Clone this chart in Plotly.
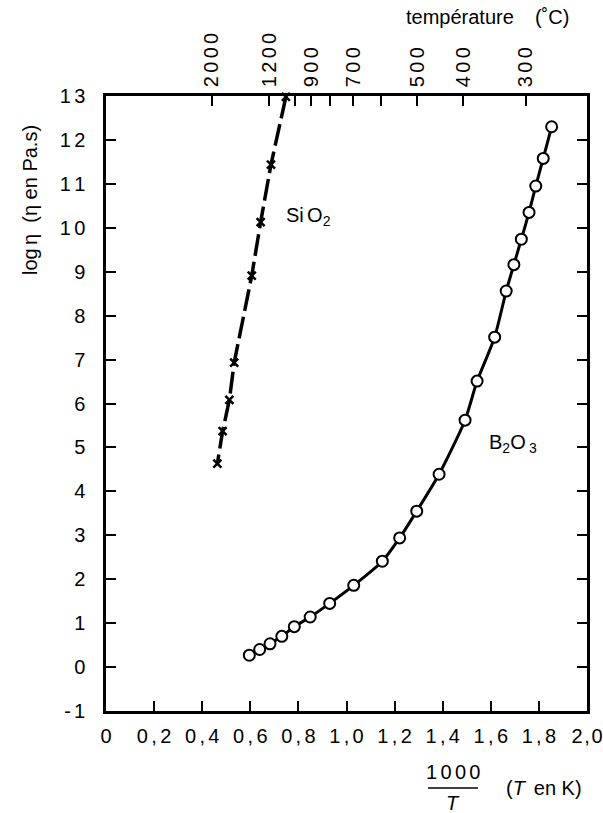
import plotly.graph_objects as go

# Viscosity of two glass formers versus reciprocal temperature
sio2_inv_t = [0.748, 0.686, 0.643, 0.606, 0.533, 0.513, 0.485, 0.463]
sio2_log_eta = [12.98, 11.44, 10.13, 8.91, 6.93, 6.08, 5.37, 4.63]

b2o3_inv_t = [0.596, 0.639, 0.682, 0.731, 0.783, 0.849, 0.930, 1.030, 1.149, 1.221,
              1.292, 1.385, 1.493, 1.543, 1.616, 1.664, 1.696, 1.727, 1.759, 1.787,
              1.818, 1.853]
b2o3_log_eta = [0.27, 0.40, 0.53, 0.70, 0.92, 1.14, 1.45, 1.86, 2.41, 2.94,
                3.55, 4.39, 5.62, 6.51, 7.51, 8.56, 9.16, 9.74, 10.35, 10.95,
                11.58, 12.30]

x_ticks = [0, 0.2, 0.4, 0.6, 0.8, 1.0, 1.2, 1.4, 1.6, 1.8, 2.0]
x_tick_text = ["0", "0,2", "0,4", "0,6", "0,8", "1,0", "1,2", "1,4", "1,6", "1,8", "2,0"]
y_ticks = list(range(-1, 14))

temp_labelled_c = [2000, 1200, 900, 700, 500, 400, 300]
temp_minor_c = [1000, 800, 600]

FONT = "Liberation Sans, Arial, sans-serif"
SP = "\u2006"
HAIR = "\u200a"


def spaced(s, sep=SP):
    return sep.join(list(s))


W, H = 603, 813
L, R, T, B = 106, 16, 96, 102
PW, PH = W - L - R, H - T - B


def px(xp, yp):
    return (xp - L) / PW, (H - B - yp) / PH


fig = go.Figure()

fig.add_trace(go.Scatter(
    x=b2o3_inv_t, y=b2o3_log_eta, mode="lines",
    line=dict(color="black", width=3, shape="spline", smoothing=0.6),
    hoverinfo="skip", showlegend=False))
fig.add_trace(go.Scatter(
    x=b2o3_inv_t, y=b2o3_log_eta, mode="markers",
    marker=dict(symbol="circle", size=11, color="white",
                line=dict(color="black", width=2)),
    cliponaxis=False, showlegend=False))

fig.add_trace(go.Scatter(
    x=sio2_inv_t, y=sio2_log_eta, mode="lines",
    line=dict(color="black", width=3.5, dash="22px,6px"),
    hoverinfo="skip", showlegend=False))
fig.add_trace(go.Scatter(
    x=sio2_inv_t, y=sio2_log_eta, mode="markers",
    marker=dict(symbol="x-thin-open", size=8, color="black",
                line=dict(color="black", width=2.5)),
    cliponaxis=False, showlegend=False))

# top axis: Celsius temperatures placed at 1000/T (T in kelvin)
top_vals = [1000.0 / (t + 273.0) for t in temp_labelled_c]
top_minor = [1000.0 / (t + 273.0) for t in temp_minor_c]
top_text = [spaced(str(t)) for t in temp_labelled_c]
fig.add_trace(go.Scatter(x=[0, 2], y=[None, None], xaxis="x2",
                         mode="markers", showlegend=False, hoverinfo="skip"))

# bottom labels: the last one is set tighter so it stays inside the page
bottom_text = [spaced(t) for t in x_tick_text[:-1]] + [spaced(x_tick_text[-1], HAIR)]

TICKFONT = dict(family=FONT, size=20, color="black")
axis_common = dict(showgrid=False, zeroline=False, showline=True,
                   linecolor="black", linewidth=2.5, ticks="inside",
                   tickcolor="black", tickwidth=1.5, ticklen=10,
                   tickfont=TICKFONT, ticklabeloverflow="allow",
                   automargin=False)

fig.update_layout(
    width=W, height=H,
    margin=dict(l=L, r=R, t=T, b=B),
    paper_bgcolor="white", plot_bgcolor="white",
    xaxis=dict(range=[0, 2.0], tickvals=x_ticks, ticktext=bottom_text,
               mirror=True, ticklabelstandoff=5, **axis_common),
    xaxis2=dict(range=[0, 2.0], overlaying="x", side="top",
                tickmode="array", tickvals=top_vals, ticktext=top_text,
                tickangle=-90, ticklabelstandoff=2,
                minor=dict(tickmode="array", tickvals=top_minor, ticks="inside",
                           ticklen=10, tickwidth=1.5, tickcolor="black"),
                **axis_common),
    yaxis=dict(range=[-1, 13], tickvals=y_ticks,
               ticktext=[spaced(str(v)) if v >= 0 else "-" + SP + "1" for v in y_ticks],
               mirror="ticks", ticklabelstandoff=14, **axis_common),
)

ann_font = dict(family=FONT, size=20, color="black")
annotations = []

# series labels
annotations.append(dict(x=0.74, y=10.25, xref="x", yref="y",
                        text="Si" + SP + "O<sub>2</sub>", showarrow=False,
                        font=ann_font, xanchor="left"))
annotations.append(dict(x=1.585, y=5.1, xref="x", yref="y",
                        text="B<sub>2</sub>O" + SP + "<sub>3</sub>", showarrow=False,
                        font=ann_font, xanchor="left"))

# top title
ax, ay = px(487, 17)
annotations.append(dict(x=ax, y=ay, xref="paper", yref="paper",
                        text="température" + SP * 3 + "  (˚C)", showarrow=False,
                        font=ann_font, xanchor="center", yanchor="middle"))

# left axis title
ax, ay = px(30, 200)
annotations.append(dict(x=ax, y=ay, xref="paper", yref="paper",
                        text="log" + SP + "η  (η en Pa.s)", textangle=-90, showarrow=False,
                        font=ann_font, xanchor="center", yanchor="middle"))

# bottom axis title as a fraction
ax, ay = px(453, 772)
annotations.append(dict(x=ax, y=ay, xref="paper", yref="paper",
                        text=spaced("1000"), showarrow=False,
                        font=ann_font, xanchor="center", yanchor="middle"))
ax, ay = px(453, 803)
annotations.append(dict(x=ax, y=ay, xref="paper", yref="paper",
                        text="<i>T</i>", showarrow=False,
                        font=ann_font, xanchor="center", yanchor="middle"))
ax, ay = px(544, 788)
annotations.append(dict(x=ax, y=ay, xref="paper", yref="paper",
                        text="(<i>T</i>" + SP + " en K)", showarrow=False,
                        font=ann_font, xanchor="center", yanchor="middle"))

x0, y0 = px(428, 788)
x1, _ = px(478, 788)
fig.add_shape(type="line", xref="paper", yref="paper",
              x0=x0, x1=x1, y0=y0, y1=y0, line=dict(color="black", width=1.5))

fig.update_layout(annotations=annotations)

fig.write_html("out.html")
